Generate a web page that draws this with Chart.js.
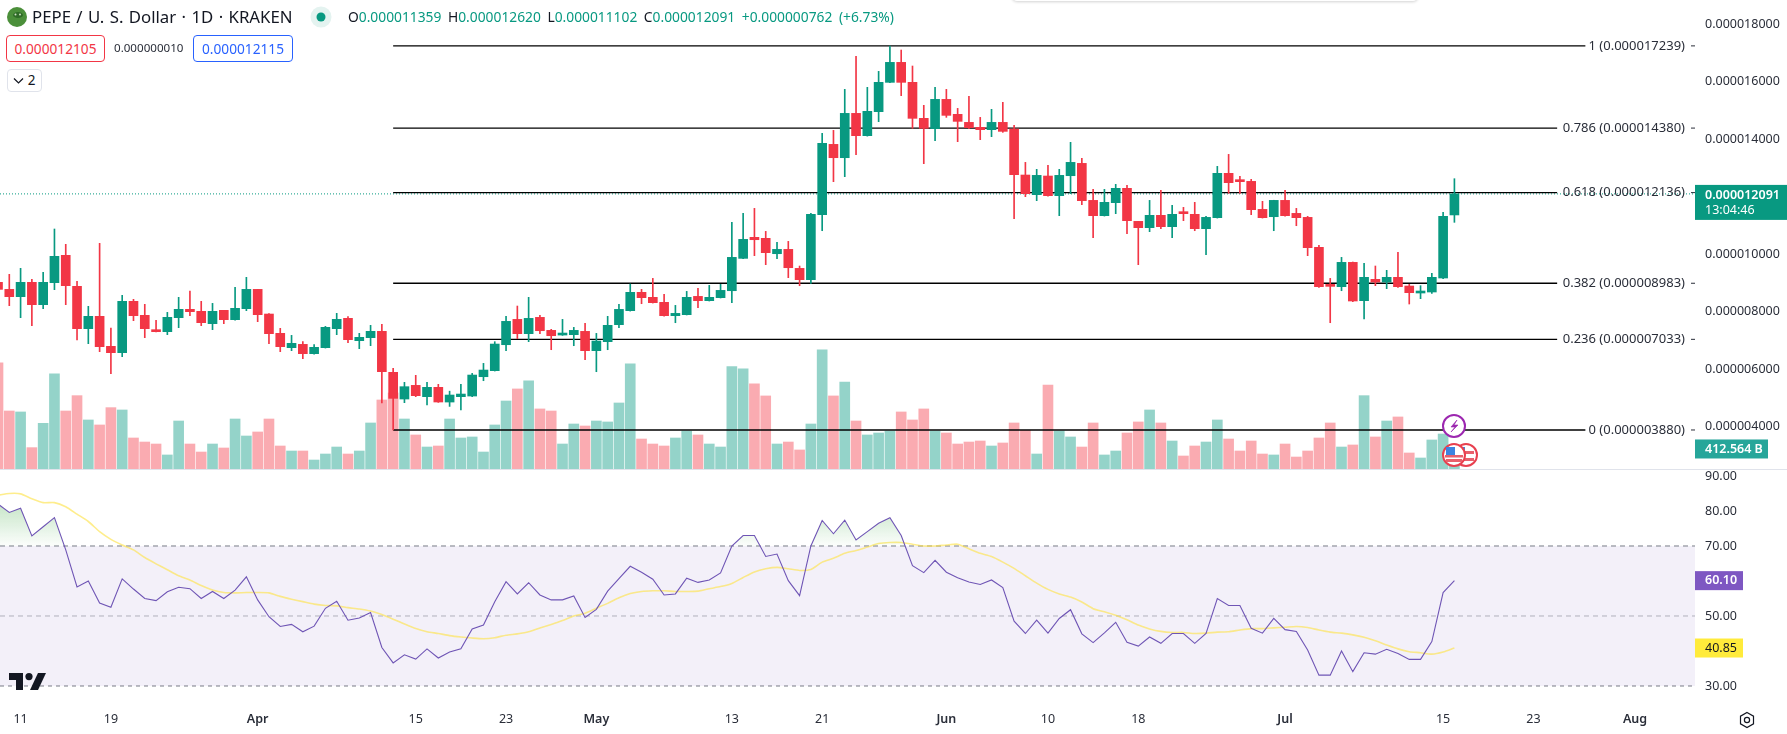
<!DOCTYPE html>
<html><head><meta charset="utf-8">
<style>
html,body{margin:0;padding:0;background:#fff;width:1787px;height:734px;overflow:hidden;font-family:"Noto Sans",sans-serif;color:#131722}
#c{position:absolute;left:0;top:0}
.t{position:absolute;white-space:nowrap}
.box{position:absolute;box-sizing:border-box;border:1px solid;border-radius:4px;text-align:center;background:#fff}
svg{position:absolute;overflow:visible}
</style></head><body>
<canvas id="c" width="1787" height="734"></canvas>
<div style="position:absolute;left:1012px;top:-4px;width:406px;height:5px;box-shadow:0 1px 3px rgba(0,0,0,.18);border-radius:0 0 6px 6px"></div>
<svg style="left:0;top:0" width="40" height="34"><circle cx="17" cy="17" r="10" fill="#4b8f3a"/><ellipse cx="18" cy="15" rx="5" ry="3" fill="#2f6b27"/><circle cx="15.5" cy="14.5" r="1" fill="#cfe3c4"/><circle cx="20" cy="14.5" r="1" fill="#cfe3c4"/></svg>
<div class="t" style="left:32px;top:6px;font-size:16.8px;line-height:22px;word-spacing:1px">PEPE / U. S. Dollar · 1D · KRAKEN</div>
<svg style="left:310px;top:6px" width="22" height="22"><circle cx="11" cy="11" r="10.5" fill="#e4f3f0"/><circle cx="11" cy="11" r="4.5" fill="#089981"/></svg>
<div class="t" style="left:348px;top:7px;font-size:13.8px;line-height:20px;word-spacing:3px;color:#089981"><span style="color:#131722">O</span>0.000011359 <span style="color:#131722">H</span>0.000012620 <span style="color:#131722">L</span>0.000011102 <span style="color:#131722">C</span>0.000012091 +0.000000762 (+6.73%)</div>
<div class="box" style="left:6px;top:35px;width:99px;height:27px;border-color:#f23645;color:#f23645;font-size:13.7px;line-height:25px">0.000012105</div>
<div class="t" style="left:114px;top:39px;font-size:11.6px;line-height:18px;color:#2a2e39">0.000000010</div>
<div class="box" style="left:193px;top:35px;width:100px;height:27px;border-color:#2962ff;color:#2962ff;font-size:13.7px;line-height:25px">0.000012115</div>
<div class="box" style="left:7px;top:69px;width:35px;height:23px;border-color:#e0e3eb;font-size:13.5px;line-height:21px;padding-left:14px">2</div>
<svg style="left:13px;top:76px" width="12" height="10"><path d="M1 2.5 L5.5 7 L10 2.5" fill="none" stroke="#131722" stroke-width="1.2"/></svg>
<svg style="left:9px;top:673px" width="37" height="17"><path d="M0 0H14V17H7V7H0Z" fill="#131722"/><circle cx="20" cy="3.6" r="3.6" fill="#131722"/><path d="M29 0H37L29 17H21Z" fill="#131722"/></svg>
<svg style="left:1738px;top:711px" width="18" height="18"><path d="M9 1.5L15.5 5.2V12.8L9 16.5L2.5 12.8V5.2Z" fill="none" stroke="#131722" stroke-width="1.2"/><circle cx="9" cy="9" r="2.6" fill="none" stroke="#131722" stroke-width="1.2"/></svg>
<svg style="left:0;top:0" width="1787" height="734">
 <circle cx="1466" cy="455" r="11" fill="#fff" stroke="#e8404f" stroke-width="2"/>
 <rect x="1458" y="451" width="16" height="3" fill="#e8606c"/><rect x="1458" y="458" width="16" height="3" fill="#e8606c"/><rect x="1462" y="447" width="3" height="8" fill="#3d83e0"/>
 <circle cx="1454" cy="455" r="11" fill="#fff" stroke="#e8404f" stroke-width="2"/>
 <rect x="1446" y="459" width="16" height="3" fill="#e8606c"/><rect x="1445" y="455" width="18" height="2.5" fill="#e8606c"/><rect x="1446" y="447" width="9" height="8" fill="#3d83e0"/>
 <circle cx="1454" cy="426" r="11" fill="#fff" stroke="#9c27b0" stroke-width="2"/>
 <path d="M1457 420L1451 427H1455L1451 432L1458 425H1454Z" fill="#9c27b0" stroke="#9c27b0" stroke-width=".6"/>
</svg>
<script src="https://cdn.jsdelivr.net/npm/chart.js@4/dist/chart.umd.min.js"></script>
<script>
// prices are in units of 0.000000001 USD
const open_=[9015,8771,8516,9015,8238,9003,9954,8876,7403,7832,
6789,6569,8354,7867,7345,7299,7786,8076,8006,7577,
8041,7716,8099,8771,7913,7241,6742,6858,6534,6742,
7403,7763,6986,7090,7311,5885,4957,5432,5038,5363,
4852,5038,5061,5733,5942,6846,7727,7229,7797,7345,
7182,7194,7310,6638,6951,7542,8029,8667,8493,8319,
7855,7890,8527,8377,8481,8724,9849,10580,10545,10011,
10162,9501,9107,11368,13814,13350,14892,14116,14950,15971,
16666,15971,14719,14359,15379,14858,14579,14406,14324,14579,
14348,12748,12064,12713,12029,12724,13153,11866,11333,11785,
12284,11136,10916,11345,10951,11426,11380,10881,11264,12806,
12539,12527,11553,11298,11866,11414,11275,10232,8910,8864,
9710,8377,9119,9026,9189,8887,8644,8679,9166,11359];
const close_=[8771,8516,9015,8238,9015,9919,8899,7403,7832,6777,
6569,8354,7855,7403,7299,7798,8076,7995,7612,8006,
7716,8111,8771,7890,7229,6777,6893,6534,6754,7450,
7728,7021,7102,7311,5908,4980,5386,5073,5363,4853,
5096,5130,5791,5965,6869,7658,7229,7762,7333,7159,
7217,7345,6638,6974,7519,8075,8667,8481,8307,7855,
7936,8493,8377,8493,8736,9884,10510,10498,10046,10162,
9524,9107,11380,13849,13350,14892,14116,14962,15971,16666,
15971,14719,14371,15379,14823,14614,14394,14324,14579,14266,
12759,12098,12736,12029,12736,13188,11855,11333,11797,12284,
11159,10916,11345,10951,11380,11403,10881,11275,12806,12481,
12516,11542,11264,11866,11333,11264,10220,8864,8875,9710,
8366,9189,9026,9189,8864,8655,8667,9189,11311,12091];
const high_=[9100,9293,9502,9119,9363,10870,10337,9050,8180,10371,
7427,8563,8424,8250,7693,7971,8493,8713,8354,8284,
8041,8841,9189,8771,7925,7415,7171,6951,6847,7484,
7937,7821,7241,7519,7554,6024,5537,5780,5537,5467,
5230,5467,5849,6197,6951,7832,8191,8493,7867,7380,
7727,7449,7588,7240,7832,8249,8956,8771,9153,8597,
8214,8701,8806,8910,8945,11101,11414,11588,10788,10406,
10440,9582,11414,14197,14301,15727,16875,15797,16353,17234,
17095,16539,15171,15797,15727,15066,15484,14753,15032,15275,
14475,13188,12945,13084,12945,13884,13327,12249,12249,12423,
12388,11136,11866,12214,11693,11623,11797,11310,13049,13466,
12701,12597,11832,11870,12214,11588,11310,10301,9153,9884,
9722,9676,9583,9432,10058,8945,8899,9328,11450,12620];
const low_=[8700,8203,7786,7508,8099,8760,8238,7009,6882,6603,
5838,6429,7682,7090,7287,7195,7438,7855,7508,7369,
7577,7700,8029,7647,6882,6603,6638,6360,6520,6730,
7195,6916,6708,6812,4820,3880,4829,5038,4748,4840,
4700,4574,5038,5594,5930,6638,7055,6951,7229,6672,
7170,6811,6325,5907,6672,7438,8015,8272,8295,7840,
7611,7880,8133,8365,8470,8307,9835,9942,9629,9838,
9177,8898,8980,10811,12516,12690,13455,14100,14603,15960,
15507,14371,13142,13942,14753,13907,14359,13977,14081,14232,
11229,11994,11855,12015,11333,12098,11716,10568,11320,11403,
10707,9629,10777,10881,10568,11159,10811,9977,11250,12110,
12110,11368,11250,10811,11320,10985,9942,8840,7611,8724,
8342,7740,8899,8795,8841,8261,8447,8632,9142,11102];
// volume in billions
const volume=[2185,1195,1175,440,941,1958,1195,1511,1010,907,
1264,1216,639,556,515,289,989,515,350,515,
433,1030,680,763,1030,474,371,371,185,309,
453,309,371,948,1422,1566,1030,701,453,474,
1030,639,660,350,907,1401,1649,1814,1237,1195,
515,927,886,989,969,1360,2164,618,515,474,
639,783,701,515,453,2109,2061,1752,1505,515,
556,392,927,2453,1505,1793,989,701,742,783,
1175,1010,1237,783,742,515,556,577,474,536,
948,797,309,1731,783,660,453,948,289,371,
742,969,1216,948,577,268,474,556,1010,618,
371,577,309,289,515,247,371,639,948,453,
495,1511,660,989,1072,330,227,598,721,412.564];
const rsi=[82.0,79.6,80.8,72.9,75.5,78.1,68.9,58.3,60.0,53.7,
52.5,60.6,57.7,55.0,54.4,56.9,58.2,57.8,55.0,57.0,
55.0,57.4,61.2,54.6,49.8,47.0,47.6,45.5,47.1,52.2,
54.2,48.8,49.4,51.0,41.0,36.6,38.9,37.7,40.6,38.0,
39.7,40.6,46.3,47.4,54.1,59.8,56.3,59.5,56.0,54.6,
54.6,55.7,49.6,51.9,57.1,60.7,64.2,62.5,60.5,56.0,
56.3,60.8,59.6,60.3,62.3,70.0,73.0,73.0,67.0,67.7,
60.1,55.8,70.0,77.3,73.5,77.4,71.7,74.1,76.5,78.1,
73.0,64.4,62.4,65.9,62.5,60.9,59.7,59.0,60.3,58.1,
48.5,45.0,48.8,45.1,49.3,51.8,44.9,42.4,45.2,48.2,
42.5,41.4,44.0,42.2,45.0,45.0,42.2,45.0,55.0,53.0,
53.0,46.5,45.1,49.3,46.1,45.6,40.3,33.1,33.1,40.0,
34.1,39.5,39.1,40.5,39.3,37.6,37.6,42.7,56.7,60.1];
const rsiMA=[84.5,85.0,84.9,83.5,82.4,82.4,81.2,79.1,77.0,74.1,
71.9,70.3,68.9,66.7,64.9,63.2,61.5,60.3,58.7,57.4,
56.7,56.6,56.7,56.7,56.6,55.6,54.8,54.1,53.4,53.0,
52.9,52.4,52.0,51.4,50.4,49.1,47.7,46.4,45.5,45.0,
44.4,44.0,43.7,43.5,43.8,44.5,44.9,45.5,46.6,47.6,
48.7,50.0,50.8,52.2,53.6,55.2,56.4,57.0,57.2,57.2,
57.0,57.0,57.1,57.8,58.4,59.3,61.0,62.6,63.5,63.9,
63.5,63.0,63.3,65.4,66.5,67.9,68.7,69.7,70.7,71.0,
71.0,70.5,70.0,70.0,70.3,70.5,69.2,67.9,67.0,65.4,
63.6,61.5,59.4,57.6,56.3,55.4,54.0,52.1,51.2,50.2,
48.9,47.4,46.3,45.6,45.3,45.3,45.0,45.1,45.4,45.5,
46.0,46.4,46.4,46.6,46.8,47.0,46.7,46.0,45.4,45.1,
44.6,43.9,42.9,41.7,40.6,39.8,39.5,39.1,39.7,40.85];
const fibLevels=["1","0.786","0.618","0.382","0.236","0"];
const fibPrices=[17239,14380,12136,8983,7033,3880];
const fibFrom=35;
const fibTo=[140.6,138.1,138.1,138.1,138.1,140.6];
const priceTicks=[18000,16000,14000,10000,8000,6000,4000];
const rsiTicks=[90,80,70,50,30];
const xTickIndex=[2,10,23,37,45,53,65,73,84,93,101,114,128,136,145];
const xTickLabels=["11","19","Apr","15","23","May","13","21","Jun","10","18","Jul","15","23","Aug"];
const months=["Apr","May","Jun","Jul","Aug"];
const lastCountdown="13:04:46";

const UP='#089981',DN='#f23645';
const XMIN=0.177,XMAX=150.31;
const FONT='"Noto Sans",sans-serif';
const fmt=v=>(v/1e9).toFixed(9);
const isUp=i=>close_[i]>=open_[i];
const idx=open_.map((_,i)=>i);
const ctx=document.getElementById('c').getContext('2d');
const grad=ctx.createLinearGradient(0,500,0,546);
grad.addColorStop(0,'rgba(76,175,80,.34)');
grad.addColorStop(1,'rgba(76,175,80,.02)');

const hline=(y,axis,color,dash,w,ord,extra)=>Object.assign({type:'line',yAxisID:axis,data:[{x:XMIN,y},{x:XMAX,y}],borderColor:color,borderDash:dash,borderWidth:w,pointRadius:0,order:ord},extra||{});

const datasets=[
 {type:'bar',label:'Wick',yAxisID:'y',order:2,grouped:false,barThickness:1,
  data:idx.map(i=>({x:i,y:[low_[i],high_[i]]})),backgroundColor:idx.map(i=>isUp(i)?UP:DN)},
 {type:'bar',label:'Body',yAxisID:'y',order:1,grouped:false,barThickness:9,minBarLength:2,
  data:idx.map(i=>({x:i,y:[open_[i],close_[i]]})),backgroundColor:idx.map(i=>isUp(i)?UP:DN)},
 {type:'bar',label:'Volume',yAxisID:'yVol',order:9,grouped:false,barThickness:10,
  data:idx.map(i=>({x:i,y:[0,volume[i]]})),backgroundColor:idx.map(i=>isUp(i)?'rgba(8,153,129,.43)':'rgba(242,54,69,.42)')},
 ...fibPrices.map((p,k)=>({type:'line',label:'Fib '+fibLevels[k],yAxisID:'y',order:5,data:[{x:fibFrom,y:p},{x:fibTo[k],y:p}],borderColor:'#000',borderWidth:1.3,pointRadius:0})),
 hline(close_[close_.length-1],'y',UP,[1,2],1,6,{label:'Last'}),
 hline(70,'yRsi','rgba(0,0,0,0)',[],0,20,{label:'Band',fill:{value:30},backgroundColor:'rgba(126,87,194,.09)'}),
 hline(70,'yRsi','#787b86',[5,4],1,19,{label:'70'}),
 hline(50,'yRsi','rgba(120,123,134,.55)',[5,4],1,19,{label:'50'}),
 hline(30,'yRsi','#787b86',[4,4],1,19,{label:'30'}),
 {type:'line',label:'RSI MA',yAxisID:'yRsi',order:12,data:idx.map(i=>({x:i,y:rsiMA[i]})),borderColor:'rgba(253,226,70,.62)',borderWidth:1.6,pointRadius:0,tension:0.2},
 {type:'line',label:'RSI',yAxisID:'yRsi',order:11,data:idx.map(i=>({x:i,y:rsi[i]})),borderColor:'#6f55b5',borderWidth:1.1,pointRadius:0,fill:{target:{value:70},above:grad,below:'rgba(0,0,0,0)'}}
];

const overlay={id:'overlay',afterDraw(chart){
 const c=chart.ctx,y=chart.scales.y,r=chart.scales.yRsi,v=chart.scales.yVol;
 c.save();
 c.strokeStyle='#e0e3eb';c.lineWidth=1;c.beginPath();c.moveTo(0,y.bottom+.5);c.lineTo(chart.width,y.bottom+.5);c.stroke();
 c.textBaseline='middle';
 fibPrices.forEach((p,k)=>{
  const py=y.getPixelForValue(p);
  c.font='13px '+FONT;c.fillStyle='#2a2e39';c.textAlign='right';
  c.fillText(fibLevels[k]+' ('+fmt(p)+')',1685,py);
  c.strokeStyle='#2a2e39';c.beginPath();c.moveTo(1691,py);c.lineTo(1695,py);c.stroke();
 });
 const badge=(py,text,bg,fg,w,h,bold)=>{
  c.fillStyle=bg;c.fillRect(chart.chartArea.right,py-h/2,w,h);
  c.fillStyle=fg;c.textAlign='left';c.font=(bold?'600 ':'')+'12.5px '+FONT;
  c.fillText(text,chart.chartArea.right+10,py);
 };
 const last=close_[close_.length-1],lp=y.getPixelForValue(last);
 c.fillStyle=UP;c.fillRect(chart.chartArea.right,lp-9,92,35);
 c.fillStyle='#fff';c.textAlign='left';c.font='600 12.5px '+FONT;c.fillText(fmt(last),1705,lp+1.5);
 c.font='12.5px '+FONT;c.fillText(lastCountdown,1705,lp+17);
 badge(v.getPixelForValue(volume[volume.length-1]),volume[volume.length-1].toFixed(3)+' B','#26a69a','#fff',73,19,true);
 badge(r.getPixelForValue(rsi[rsi.length-1]),rsi[rsi.length-1].toFixed(2),'#7e57c2','#fff',48,19,true);
 badge(r.getPixelForValue(rsiMA[rsiMA.length-1]),rsiMA[rsiMA.length-1].toFixed(2),'#ffeb3b','#131722',48,19,false);
 c.restore();
}};

const noPadY=s=>{s.width=92;s.paddingTop=0;s.paddingBottom=0;};
const tickFont={family:FONT,size:12.5};
new Chart(ctx,{
 type:'bar',
 data:{datasets},
 plugins:[overlay],
 options:{
  responsive:false,animation:false,devicePixelRatio:1,
  layout:{padding:0,autoPadding:false},
  plugins:{legend:{display:false},tooltip:{enabled:false},title:{display:false}},
  scales:{
   x:{type:'linear',position:'bottom',min:XMIN,max:XMAX,offset:false,
      grid:{display:false,drawTicks:false},border:{display:false},
      afterBuildTicks:s=>{s.ticks=xTickIndex.map(value=>({value}));},
      afterFit:s=>{s.height=31;s.paddingLeft=0;s.paddingRight=0;},
      ticks:{autoSkip:false,maxRotation:0,padding:9,color:'#2a2e39',
        callback:v=>xTickLabels[xTickIndex.indexOf(v)],
        font:c=>({family:FONT,size:12.5,weight:months.includes(xTickLabels[c.index])?'600':'400'})}},
   y:{type:'linear',position:'right',stack:'p',stackWeight:469,weight:0,min:2523,max:18835,
      grid:{display:false,drawTicks:false},border:{display:false},
      afterBuildTicks:s=>{s.ticks=priceTicks.map(value=>({value}));},
      afterFit:noPadY,
      ticks:{autoSkip:false,padding:10,color:'#2a2e39',font:tickFont,callback:v=>fmt(v)}},
   yRsi:{type:'linear',position:'right',stack:'p',stackWeight:234,weight:1,min:25.14,max:92,
      grid:{display:false,drawTicks:false},border:{display:false},
      afterBuildTicks:s=>{s.ticks=rsiTicks.map(value=>({value}));},
      afterFit:noPadY,
      ticks:{autoSkip:false,padding:10,color:'#2a2e39',font:tickFont,callback:v=>v.toFixed(2)}},
   yVol:{type:'linear',position:'right',display:false,min:-4820,max:9661}
  }
 }
});
</script>
</body></html>
